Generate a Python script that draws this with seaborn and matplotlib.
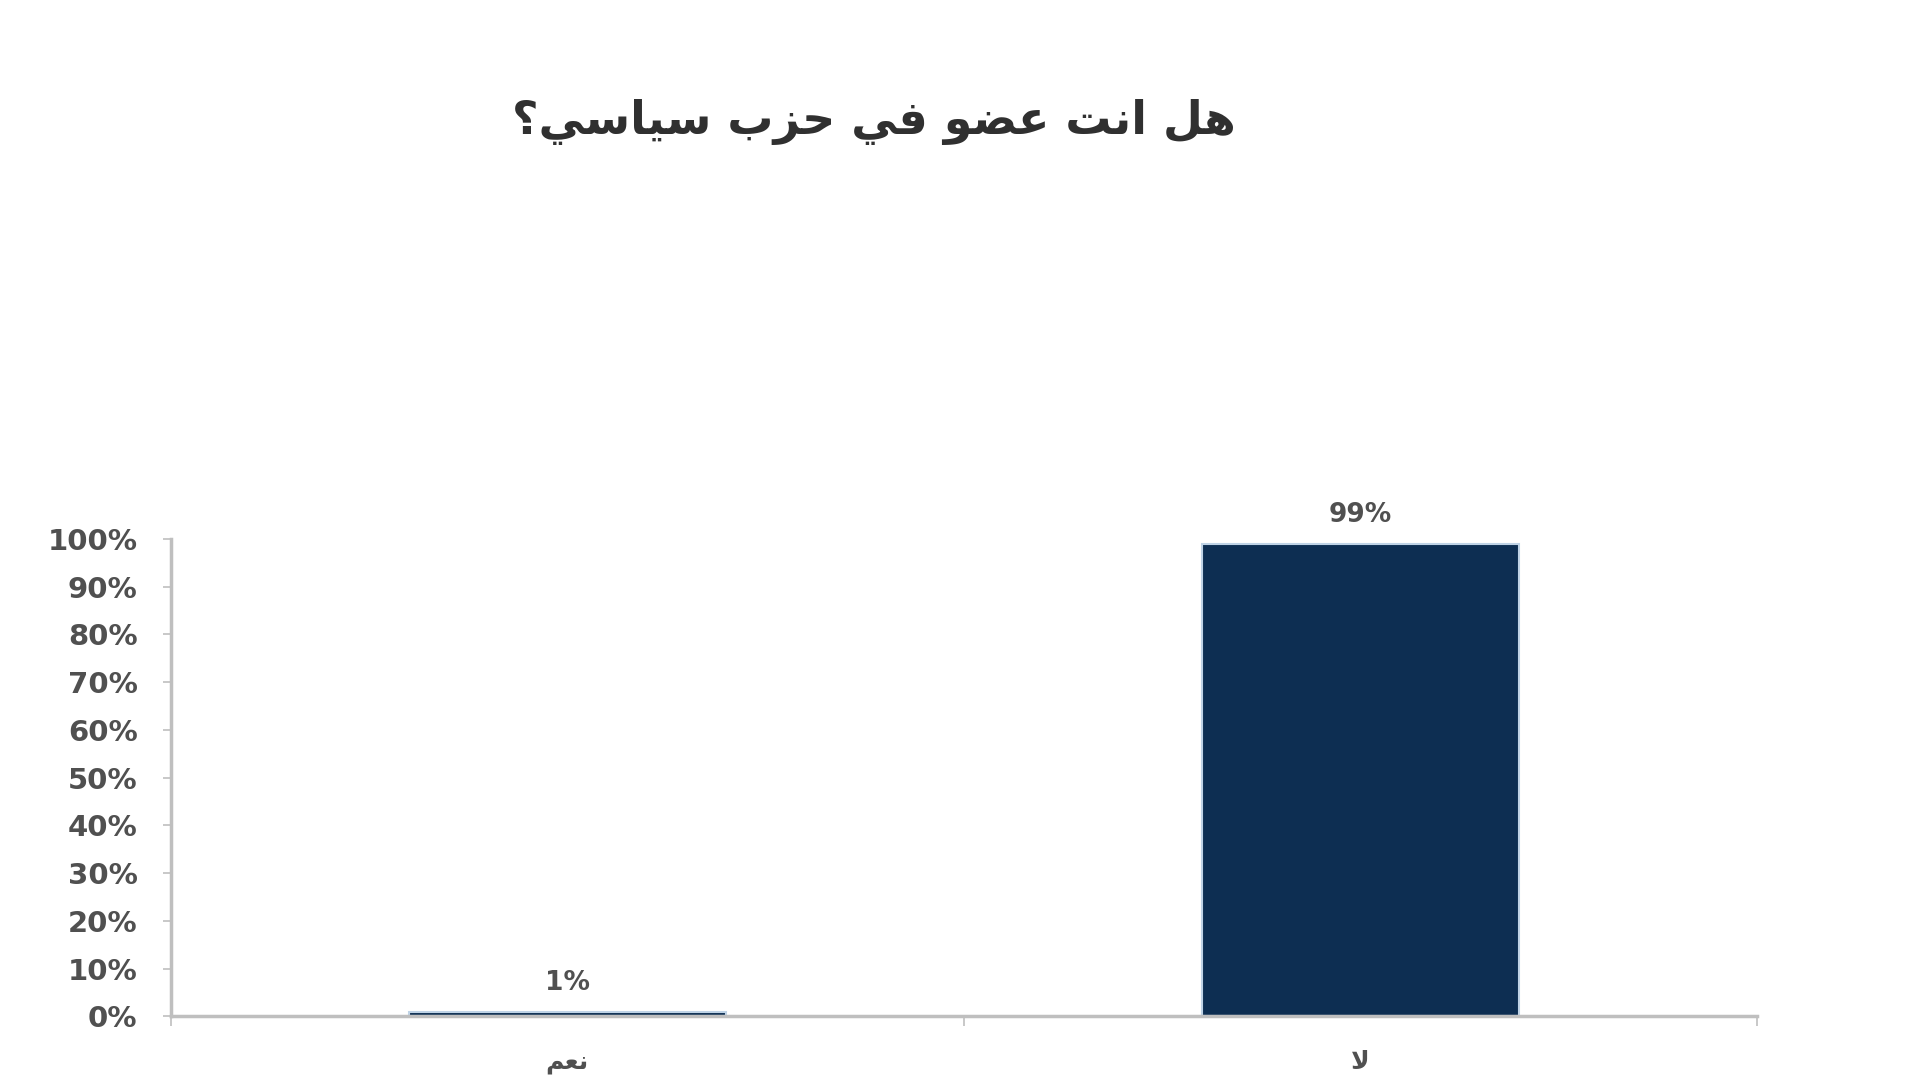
import matplotlib
matplotlib.use('Agg')
import matplotlib.pyplot as plt
import seaborn as sns
import pandas as pd
from matplotlib.ticker import PercentFormatter, FixedLocator

# Données
title = 'هل انت عضو في حزب سياسي؟'
categories = ['نعم', 'لا']
values = [0.01, 0.99]
value_labels = ['1%', '99%']

# Mise en forme arabe minimale (matplotlib ne fait ni liaison ni bidi)
FORMS = {
    'ا': ('\uFE8D', '\uFE8E'), 'ب': ('\uFE8F', '\uFE90', '\uFE91', '\uFE92'),
    'ت': ('\uFE95', '\uFE96', '\uFE97', '\uFE98'), 'ح': ('\uFEA1', '\uFEA2', '\uFEA3', '\uFEA4'),
    'ز': ('\uFEAF', '\uFEB0'), 'س': ('\uFEB1', '\uFEB2', '\uFEB3', '\uFEB4'),
    'ض': ('\uFEBD', '\uFEBE', '\uFEBF', '\uFEC0'), 'ع': ('\uFEC9', '\uFECA', '\uFECB', '\uFECC'),
    'ف': ('\uFED1', '\uFED2', '\uFED3', '\uFED4'), 'ل': ('\uFEDD', '\uFEDE', '\uFEDF', '\uFEE0'),
    'م': ('\uFEE1', '\uFEE2', '\uFEE3', '\uFEE4'), 'ن': ('\uFEE5', '\uFEE6', '\uFEE7', '\uFEE8'),
    'ه': ('\uFEE9', '\uFEEA', '\uFEEB', '\uFEEC'), 'و': ('\uFEED', '\uFEEE'),
    'ي': ('\uFEF1', '\uFEF2', '\uFEF3', '\uFEF4'),
}


def shape_ar(text):
    chars = list(text)
    out = []
    i = 0
    while i < len(chars):
        c = chars[i]
        if c not in FORMS:
            out.append(c)
            i += 1
            continue
        prev = chars[i - 1] if i > 0 else None
        nxt = chars[i + 1] if i + 1 < len(chars) else None
        conn_prev = prev in FORMS and len(FORMS[prev]) == 4
        if c == 'ل' and nxt == 'ا':
            out.append('\uFEFC' if conn_prev else '\uFEFB')
            i += 2
            continue
        f = FORMS[c]
        conn_next = len(f) == 4 and nxt in FORMS
        if conn_prev and conn_next:
            out.append(f[3])
        elif conn_prev:
            out.append(f[1])
        elif conn_next:
            out.append(f[2])
        else:
            out.append(f[0])
        i += 1
    return ''.join(reversed(out))


df = pd.DataFrame({'reponse': [shape_ar(c) for c in categories], 'part': values})

sns.set_theme(style='white')
plt.rcParams['font.family'] = ['DejaVu Sans']

fig = plt.figure(figsize=(19.2, 10.8), dpi=100)
ax = fig.add_axes([0.089, 0.059, 0.826, 0.442])

sns.barplot(data=df, x='reponse', y='part', color='#0D2E52', saturation=1, width=0.40,
            edgecolor='#BFD3E6', linewidth=1.5, ax=ax)
ax.bar_label(ax.containers[0], labels=value_labels, padding=11,
             fontsize=19, fontweight='bold', color='#505050')

ax.set_xlim(-0.5, 1.5)
ax.set_ylim(0, 1)
ax.yaxis.set_major_locator(FixedLocator([i / 10 for i in range(11)]))
ax.yaxis.set_major_formatter(PercentFormatter(1, decimals=0))
ax.xaxis.set_minor_locator(FixedLocator([-0.5, 0.5, 1.5]))
ax.set_xlabel('')
ax.set_ylabel('')

for side in ['top', 'right']:
    ax.spines[side].set_visible(False)
for side in ['left', 'bottom']:
    ax.spines[side].set_color('#BFBFBF')
    ax.spines[side].set_linewidth(2.5)

ax.tick_params(axis='y', which='major', length=6, width=1.2, color='#BFBFBF',
               pad=18, labelsize=21, labelcolor='#505050', left=True, direction='out')
for lbl in ax.get_yticklabels():
    lbl.set_fontweight('bold')
ax.tick_params(axis='x', which='major', length=0, pad=24, labelsize=18, labelcolor='#505050')
for lbl in ax.get_xticklabels():
    lbl.set_fontweight('bold')
ax.tick_params(axis='x', which='minor', length=7, width=1.2, color='#BFBFBF',
               bottom=True, direction='out')

fig.text(0.455, 0.887, shape_ar(title), ha='center', va='center',
         fontsize=33, fontweight='bold', color='#303030')

fig.savefig('out.png', dpi=100, facecolor='white')
